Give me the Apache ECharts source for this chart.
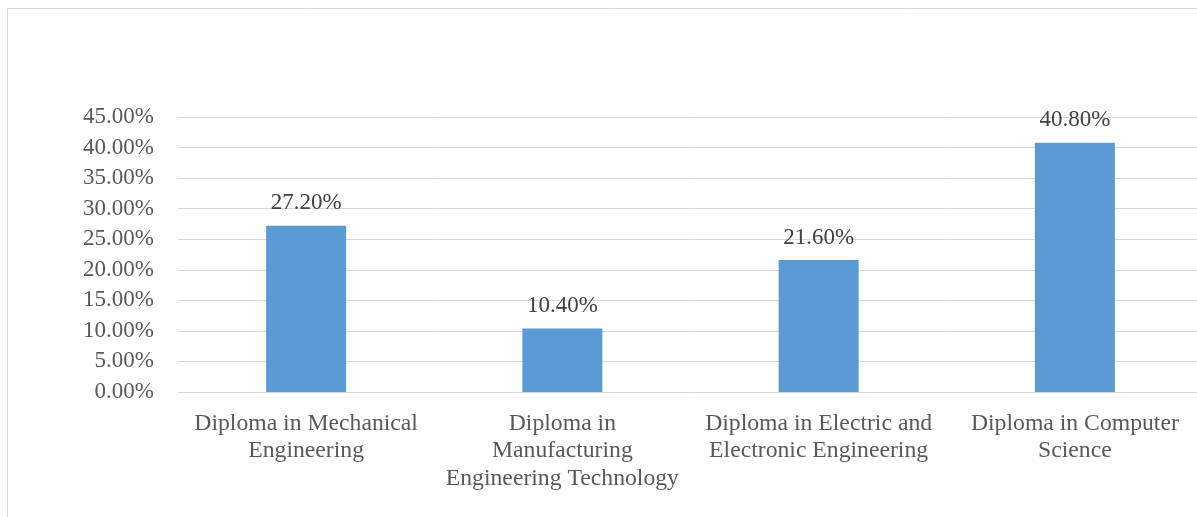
<!DOCTYPE html>
<html><head><meta charset="utf-8">
<script src="https://cdn.jsdelivr.net/npm/echarts@6/dist/echarts.min.js"></script>
<style>html,body{margin:0;padding:0;background:#fff;overflow:hidden}#c{width:1210px;height:517px}</style>
</head><body><div id="c"></div>
<script>
const categories = ["Diploma in Mechanical\nEngineering", "Diploma in\nManufacturing\nEngineering Technology", "Diploma in Electric and\nElectronic Engineering", "Diploma in Computer\nScience"];
const values = [27.2, 10.4, 21.6, 40.8];
const yMin = 0, yMax = 45, yStep = 5;

const chart = echarts.init(document.getElementById('c'));
chart.setOption({
  animation: false,
  graphic: [{type:'rect', shape:{x:7.5,y:8.5,width:1300,height:600}, style:{fill:'none', stroke:'#d9d9d9', lineWidth:1}}],
  grid: {left:178, top:117, right:7, height:275},
  xAxis: {
    type:'category', data:categories,
    axisTick:{show:false},
    axisLine:{lineStyle:{color:'#d9d9d9', width:1}},
    axisLabel:{color:'#595959', fontFamily:'Liberation Serif', fontSize:23.7, lineHeight:27.5, margin:18, interval:0}
  },
  yAxis: {
    type:'value', min:yMin, max:yMax, interval:yStep,
    axisLine:{show:false}, axisTick:{show:false},
    splitLine:{lineStyle:{color:'#d9d9d9', width:1}},
    axisLabel:{color:'#595959', fontFamily:'Liberation Serif', fontSize:23, margin:24, formatter: v => v.toFixed(2)+'%'}
  },
  series: [{
    type:'bar', data:values, barWidth:80,
    itemStyle:{color:'#5b9bd5'},
    label:{show:true, position:'top', distance:11, color:'#404040', fontFamily:'Liberation Serif', fontSize:23, formatter: p => p.value.toFixed(2)+'%'}
  }]
});
</script></body></html>
